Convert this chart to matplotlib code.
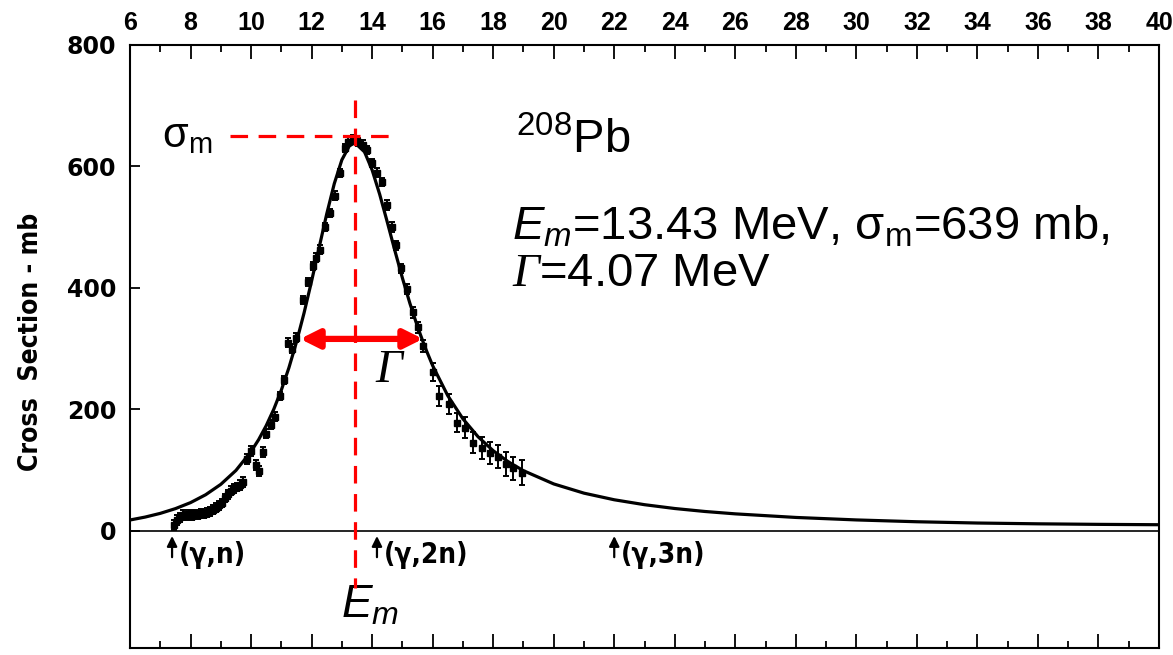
import matplotlib
matplotlib.use('Agg')
import matplotlib.pyplot as plt
from matplotlib.ticker import MultipleLocator

plt.rcParams['mathtext.fontset'] = 'custom'
plt.rcParams['mathtext.rm'] = 'Liberation Sans'
plt.rcParams['mathtext.it'] = 'Liberation Sans:italic'
plt.rcParams['mathtext.cal'] = 'Liberation Serif:italic'

# Lorentz fit curve (energy in MeV, cross section in mb)
curve_e = [6, 6.5, 7, 7.5, 8, 8.5, 9, 9.5, 10, 10.25, 10.5, 10.75, 11, 11.25, 11.5,
           11.75, 12, 12.25, 12.5, 12.75, 13, 13.25, 13.43, 13.75, 14, 14.25, 14.5,
           14.75, 15, 15.25, 15.5, 15.75, 16, 16.5, 17, 17.5, 18, 18.5, 19, 20, 21,
           22, 23, 24, 25, 26, 28, 30, 32, 34, 36, 38, 40]
curve_s = [17.8, 22.6, 28.7, 36.5, 46.4, 59.4, 76.5, 99.4, 130.5, 150.1, 173.1, 200.1,
           231.7, 268.4, 310.7, 358.5, 411.2, 466.7, 521.8, 571.7, 610.8, 634.0, 639.0,
           623.9, 594.2, 554.1, 508.6, 461.7, 416.4, 374.3, 336.1, 302.1, 272.0, 222.5,
           184.4, 154.9, 131.9, 113.6, 99.0, 77.2, 62.0, 51.1, 43.0, 36.7, 31.8, 27.9,
           22.0, 17.9, 14.9, 12.8, 11.5, 10.6, 10.0]

# measured points
data_e = [7.45, 7.55, 7.65, 7.75, 7.85, 7.95, 8.05, 8.15, 8.25, 8.35, 8.45, 8.55, 8.65,
          8.75, 8.85, 8.95, 9.05, 9.15, 9.25, 9.35, 9.45, 9.55, 9.65, 9.75, 9.85, 10.0,
          10.15, 10.25, 10.38, 10.5, 10.65, 10.8, 10.95, 11.1, 11.22, 11.35, 11.5, 11.7,
          11.87, 12.04, 12.15, 12.27, 12.45, 12.6, 12.77, 12.93, 13.1, 13.2, 13.36, 13.53,
          13.69, 13.82, 13.99, 14.15, 14.32, 14.48, 14.65, 14.8, 14.97, 15.14, 15.34, 15.5,
          15.67, 16.0, 16.2, 16.53, 16.79, 17.06, 17.32, 17.62, 17.88, 18.15, 18.41, 18.67,
          18.94]
data_s = [10, 18, 22, 26, 24, 28, 25, 28, 26, 29, 28, 30, 32, 35, 38, 42, 46, 54, 60, 66,
          70, 72, 76, 80, 118, 132, 108, 98, 130, 160, 175, 188, 222, 248, 310, 300, 318,
          380, 410, 436, 450, 463, 500, 523, 552, 589, 630, 641, 645, 640, 636, 627, 606,
          590, 574, 536, 500, 470, 432, 398, 360, 335, 305, 262, 222, 209, 178, 170, 145,
          137, 128, 122, 110, 103, 96]
data_err = [8, 8, 8, 8, 7, 7, 7, 7, 7, 7, 7, 7, 7, 7, 7, 7, 7, 7, 7, 7, 7, 7, 8, 8, 8, 8,
            8, 8, 8, 8, 7, 7, 7, 7, 8, 8, 7, 7, 7, 7, 7, 7, 7, 7, 7, 7, 7, 7, 7, 7, 7, 7,
            7, 7, 7, 8, 8, 8, 8, 8, 9, 9, 10, 15, 16, 16, 16, 17, 17, 18, 18, 19, 19, 19, 20]

# thresholds
thr_e = [7.39, 14.16, 22.0]
thr_labels = ['(γ,n)', '(γ,2n)', '(γ,3n)']

e_m = 13.43
sigma_m = 650
gamma_lo, gamma_hi, gamma_level = 11.62, 15.68, 316

fig = plt.figure(figsize=(11.73, 6.55), dpi=100)
ax = fig.add_axes([130 / 1173, 7 / 655, 1029 / 1173, 603 / 655])

ax.plot(curve_e, curve_s, color='black', lw=2.3, zorder=3)
ax.errorbar(data_e, data_s, yerr=data_err, fmt='s', color='black', ms=4.5,
            elinewidth=1.4, capsize=2.5, capthick=1.4, zorder=4)
ax.axhline(0, color='black', lw=1.2, zorder=2)

ax.set_xlim(6, 40)
ax.set_ylim(-193, 800)
ax.xaxis.set_major_locator(MultipleLocator(2))
ax.xaxis.set_minor_locator(MultipleLocator(1))
ax.set_yticks([0, 200, 400, 600, 800])
ax.tick_params(axis='x', which='both', direction='in', top=True, bottom=True,
               labeltop=True, labelbottom=False, width=1.3, pad=7)
ax.tick_params(axis='x', which='major', length=10)
ax.tick_params(axis='x', which='minor', length=5)
ax.tick_params(axis='y', which='major', direction='in', length=7, width=1.3, pad=10)
for lab in ax.get_xticklabels():
    lab.set_fontfamily('Liberation Sans')
    lab.set_fontweight('bold')
    lab.set_fontsize(18)
for lab in ax.get_yticklabels():
    lab.set_fontfamily('DejaVu Sans')
    lab.set_fontweight('bold')
    lab.set_fontsize(17)
for sp in ax.spines.values():
    sp.set_linewidth(1.5)

ax.set_ylabel('Cross  Section - mb', family='DejaVu Sans', fontstretch='condensed',
              fontweight='heavy', fontsize=19)
ax.yaxis.set_label_coords(-0.0836, 0.507)

# threshold markers
for e, lab in zip(thr_e, thr_labels):
    ax.annotate('', xy=(e, -4), xytext=(e, -48),
                arrowprops=dict(arrowstyle='-|>', color='black', lw=1.6, mutation_scale=15))
    ax.text(e + 0.22, -40, lab, family='DejaVu Sans', fontstretch='condensed',
            fontweight='bold', fontsize=20, va='center', ha='left')

# red annotations
red = '#ff0000'
ax.plot([e_m, e_m], [709, -95], color=red, lw=2.3, ls=(0, (5.5, 3.3)), zorder=5)
ax.plot([9.3, 14.75], [sigma_m, sigma_m], color=red, lw=2.3, ls=(0, (5.5, 3.3)), zorder=5)
ax.annotate('', xy=(gamma_lo, gamma_level), xytext=(gamma_hi, gamma_level),
            arrowprops=dict(arrowstyle='<|-|>', color=red, lw=4.5, mutation_scale=28,
                            shrinkA=0, shrinkB=0), zorder=6)

ax.text(7.05, sigma_m, 'σ$_\\mathrm{m}$', family='Liberation Sans', fontsize=30,
        va='center', ha='left')
ax.text(14.6, 265, '$\\mathcal{\\Gamma}$', fontsize=34, va='center', ha='center')
ax.text(13.93, -123, '$E_m$', fontsize=33, va='center', ha='center')

ax.text(18.75, 642, '$^{208}$Pb', family='Liberation Sans', fontsize=34,
        va='center', ha='left')
ax.text(18.62, 500, '$E_m$=13.43 MeV, σ$_\\mathrm{m}$=639 mb,', family='Liberation Sans',
        fontsize=34, va='center', ha='left')
ax.text(18.62, 423, '$\\mathcal{\\Gamma}$=4.07 MeV', family='Liberation Sans',
        fontsize=34, va='center', ha='left')

fig.savefig('out.png', dpi=100)
